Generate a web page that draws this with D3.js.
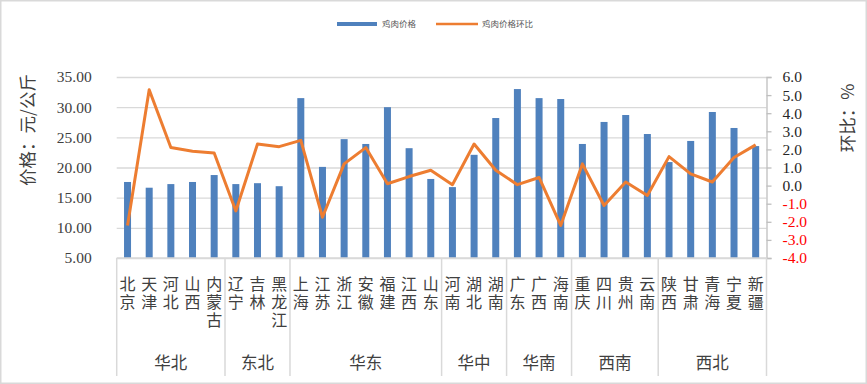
<!DOCTYPE html>
<html>
<head>
<meta charset="utf-8">
<script src="https://cdn.jsdelivr.net/npm/d3@7"></script>
<style>
  body { margin: 0; background: #fff; }
  svg { display: block; font-family: "Liberation Serif", "Noto Sans CJK SC", serif; }
</style>
</head>
<body>
<svg id="chart" width="867" height="384"></svg>
<script>
const provinces = ["北京","天津","河北","山西","内蒙古","辽宁","吉林","黑龙江","上海","江苏","浙江","安徽","福建","江西","山东",
  "河南","湖北","湖南","广东","广西","海南","重庆","四川","贵州","云南","陕西","甘肃","青海","宁夏","新疆"];
const regions = ["华北","东北","华东","华中","华南","西南","西北"];
const regionCounts = [5, 3, 7, 3, 3, 4, 5];
const prices = [17.6,16.65,17.25,17.6,18.75,17.25,17.4,16.9,31.5,20.1,24.7,23.9,30.0,23.2,18.1,
  16.75,22.1,28.2,33.0,31.5,31.35,23.9,27.55,28.7,25.55,20.9,24.4,29.2,26.55,23.55];
const momChange = [-2.2,5.3,2.1,1.9,1.8,-1.4,2.3,2.15,2.5,-1.75,1.2,2.1,0.1,0.5,0.85,
  0.05,2.3,0.85,0.05,0.45,-2.2,1.2,-1.1,0.2,-0.55,1.6,0.65,0.2,1.55,2.25];
const priceTicks = [5, 10, 15, 20, 25, 30, 35];
const momTicks = [-4, -3, -2, -1, 0, 1, 2, 3, 4, 5, 6];

const svg = d3.select('#chart');
const plotLeft = 116.7, plotRight = 766.5, plotTop = 77, plotBottom = 258;

// outer frame
svg.append('rect')
    .attr('x', 0.75).attr('y', 0.75).attr('width', 865.5).attr('height', 382.5)
    .attr('fill', '#fff').attr('stroke', '#d9d9d9').attr('stroke-width', 1.5);

const x = d3.scaleBand().domain(provinces).range([plotLeft, plotRight]);
const yL = d3.scaleLinear().domain([5, 35]).range([plotBottom, plotTop]);
const yR = d3.scaleLinear().domain([-4, 6]).range([plotBottom, plotTop]);

// gridlines
svg.append('g')
    .attr('transform', `translate(${plotLeft},0)`)
    .call(d3.axisLeft(yL).tickValues(priceTicks).tickSize(-(plotRight - plotLeft)).tickFormat(''))
    .call(g => g.select('.domain').remove())
    .call(g => g.selectAll('line').attr('stroke', '#d9d9d9').attr('stroke-width', 1.3));

// left axis labels
svg.append('g')
    .attr('transform', `translate(${plotLeft},0)`)
    .call(d3.axisLeft(yL).tickValues(priceTicks).tickSize(0).tickPadding(25).tickFormat(d => d.toFixed(2)))
    .call(g => g.select('.domain').remove())
    .call(g => g.selectAll('text').attr('font-size', 15.5).attr('fill', '#404040')
        .attr('font-family', 'Liberation Serif'));

// right axis
svg.append('g')
    .attr('transform', `translate(${plotRight},0)`)
    .call(d3.axisRight(yR).tickValues(momTicks).tickSize(5).tickPadding(11).tickFormat(d => d.toFixed(1)))
    .call(g => g.select('.domain').attr('stroke', '#bfbfbf').attr('stroke-width', 1.3))
    .call(g => g.selectAll('line').attr('stroke', '#bfbfbf').attr('stroke-width', 1.3))
    .call(g => g.selectAll('text').attr('font-size', 15.5).attr('font-family', 'Liberation Serif')
        .attr('fill', d => d < 0 ? '#ff0000' : '#262626'));

// bars
svg.append('g').selectAll('rect')
    .data(provinces)
    .enter()
    .append('rect')
    .attr('x', d => x(d) + x.bandwidth() / 2 - 3.5)
    .attr('width', 7)
    .attr('y', (d, i) => yL(prices[i]))
    .attr('height', (d, i) => yL(5) - yL(prices[i]))
    .attr('fill', '#4f81bd');

// line
const line = d3.line()
    .x(d => x(d) + x.bandwidth() / 2)
    .y((d, i) => yR(momChange[i]));
svg.append('path')
    .datum(provinces)
    .attr('d', line)
    .attr('fill', 'none')
    .attr('stroke', '#ed7d31')
    .attr('stroke-width', 3)
    .attr('stroke-linejoin', 'round');

// category axis: baseline + group separators
svg.append('line')
    .attr('x1', plotLeft).attr('x2', plotRight).attr('y1', plotBottom).attr('y2', plotBottom)
    .attr('stroke', '#d9d9d9').attr('stroke-width', 1.3);

const sepIdx = [0];
regionCounts.forEach(n => sepIdx.push(sepIdx[sepIdx.length - 1] + n));
svg.append('g').selectAll('line')
    .data(sepIdx)
    .enter()
    .append('line')
    .attr('x1', i => i < provinces.length ? x(provinces[i]) : plotRight)
    .attr('x2', i => i < provinces.length ? x(provinces[i]) : plotRight)
    .attr('y1', plotBottom).attr('y2', 376)
    .attr('stroke', '#d9d9d9').attr('stroke-width', 1.5);

// province labels, written vertically
svg.append('g')
    .attr('font-family', 'Noto Sans CJK SC')
    .attr('font-size', 16)
    .attr('fill', '#404040')
  .selectAll('text')
    .data(provinces)
    .enter()
    .append('text')
    .style('writing-mode', 'vertical-rl')
    .style('letter-spacing', '2.4px')
    .attr('x', d => x(d) + x.bandwidth() / 2)
    .attr('y', 275.5)
    .text(d => d);

// region labels
svg.append('g').selectAll('text')
    .data(regions)
    .enter()
    .append('text')
    .attr('x', (d, i) => {
      const a = x(provinces[sepIdx[i]]);
      const b = sepIdx[i + 1] < provinces.length ? x(provinces[sepIdx[i + 1]]) : plotRight;
      return (a + b) / 2;
    })
    .attr('y', 363)
    .attr('dy', '0.36em')
    .attr('text-anchor', 'middle')
    .attr('font-family', 'Noto Sans CJK SC')
    .attr('font-size', 16.5)
    .attr('fill', '#404040')
    .text(d => d);

// axis titles
svg.append('text')
    .attr('transform', 'translate(28,130) rotate(-90)')
    .attr('text-anchor', 'middle')
    .attr('dy', '0.36em')
    .attr('font-family', 'Noto Sans CJK SC')
    .attr('font-size', 17.5)
    .attr('fill', '#404040')
    .text('价格：元/公斤');

svg.append('text')
    .attr('transform', 'translate(848,118) rotate(-90)')
    .attr('text-anchor', 'middle')
    .attr('dy', '0.36em')
    .attr('font-family', 'Noto Sans CJK SC')
    .attr('font-size', 17.5)
    .attr('fill', '#404040')
    .text('环比：%');

// legend
const legend = svg.append('g').attr('font-family', 'Noto Sans CJK SC').attr('font-size', 8.5).attr('fill', '#595959');
legend.append('rect').attr('x', 337).attr('y', 22).attr('width', 40).attr('height', 4).attr('fill', '#4f81bd');
legend.append('text').attr('x', 382).attr('y', 24).attr('dy', '0.36em').text('鸡肉价格');
legend.append('line').attr('x1', 436).attr('x2', 478).attr('y1', 24).attr('y2', 24)
    .attr('stroke', '#ed7d31').attr('stroke-width', 2.5);
legend.append('text').attr('x', 482).attr('y', 24).attr('dy', '0.36em').text('鸡肉价格环比');
</script>
</body>
</html>
